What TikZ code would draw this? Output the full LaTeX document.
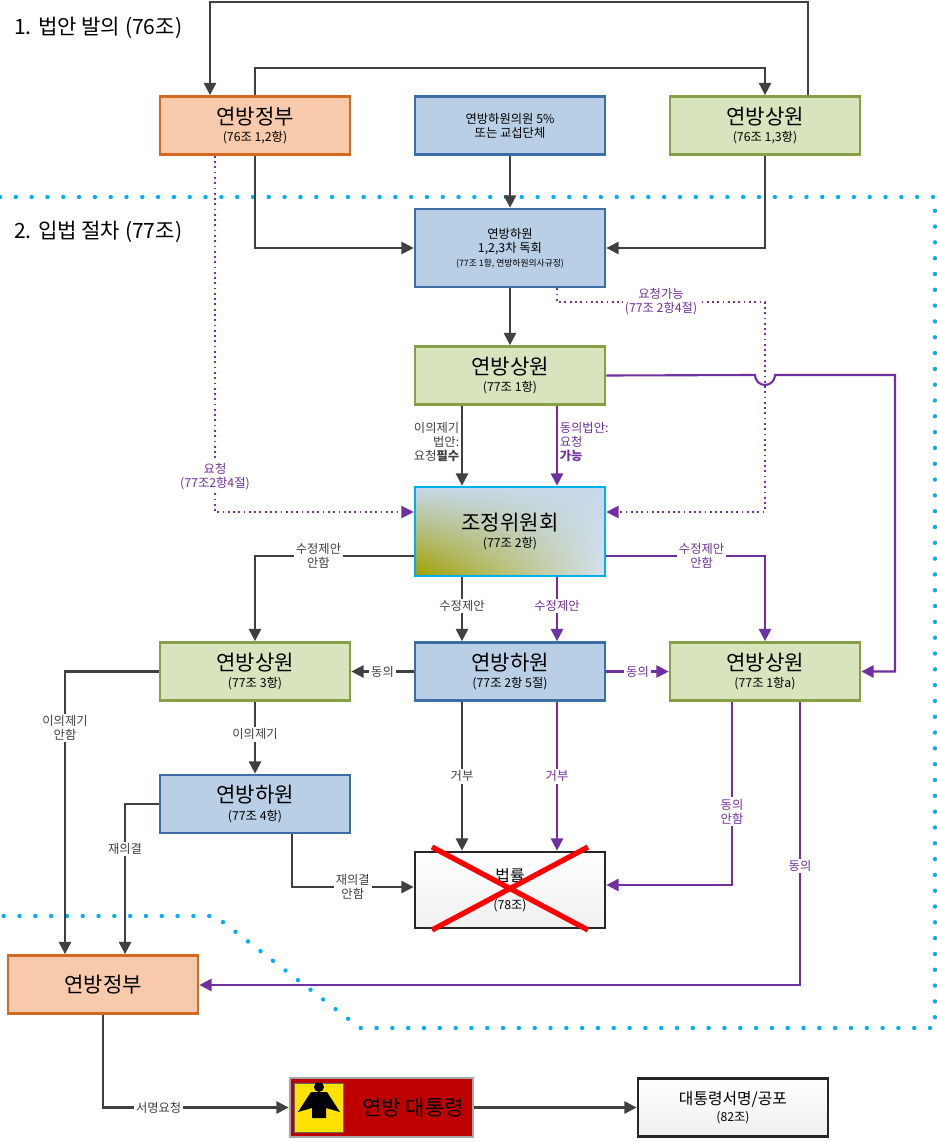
\documentclass[tikz,border=0pt]{standalone}
\usepackage{fontspec}
\setmainfont{Noto Sans CJK KR}
\usetikzlibrary{arrows.meta,shadings}
\definecolor{orgfill}{RGB}{246,202,170}
\definecolor{orgline}{RGB}{210,105,30}
\definecolor{bluefill}{RGB}{185,207,230}
\definecolor{blueline}{RGB}{60,110,165}
\definecolor{grnfill}{RGB}{215,228,190}
\definecolor{grnline}{RGB}{135,160,70}
\definecolor{purp}{RGB}{112,48,160}
\definecolor{cyanline}{RGB}{0,176,240}
\definecolor{darr}{RGB}{64,64,64}
\begin{document}
\begin{tikzpicture}[x=0.02cm,y=-0.02cm,
    box/.style={draw,line width=1.6pt,minimum width=3.8cm,minimum height=1.16cm,align=center,inner sep=1pt,font=\scriptsize},
    gov/.style={box,fill=orgfill,draw=orgline},
    lower/.style={box,fill=bluefill,draw=blueline},
    upper/.style={box,fill=grnfill,draw=grnline},
    blk/.style={darr,line width=1.2pt,-{Triangle[length=7pt,width=7pt]}},
    prp/.style={purp,line width=1.2pt,-{Triangle[length=7pt,width=7pt]}},
    prpdot/.style={purp,line width=1pt,dotted,-{Triangle[length=7pt,width=7pt]}},
    lbl/.style={fill=white,inner sep=1pt,align=center,font=\scriptsize},
    plbl/.style={lbl,text=purp}]
\useasboundingbox (0,0) rectangle (936,1142);
% region of the legislative procedure
\draw[cyanline,line width=2.5pt,line cap=round,dash pattern=on 0pt off 9pt]
  (0,197) -- (935,197) -- (935,1028) -- (360,1028) -- (215,916) -- (0,916);
\node[anchor=west,font=\large] (t1) at (8,28) {1. 법안 발의 (76조)};
\node[anchor=west,font=\large] (t2) at (8,232) {2. 입법 절차 (77조)};

% boxes
\node[gov] (gov1) at (255,125.5) {{\large 연방정부}\\[2pt](76조 1,2항)};
\node[lower] (bt5) at (510,125.5) {연방하원의원 5\%\\또는 교섭단체};
\node[upper] (br1) at (765,125.5) {{\large 연방상원}\\[2pt](76조 1,3항)};
\node[lower,minimum height=1.56cm] (bt1) at (510,248) {연방하원\\1,2,3차 독회\\{\tiny (77조 1항, 연방하원의사규정)}};
\node[upper] (br2) at (510,375.5) {{\large 연방상원}\\[2pt](77조 1항)};
\node[box,draw=cyanline,minimum height=1.78cm,upper left=bluefill!80,upper right=bluefill!80,lower left=olive!75,lower right=bluefill!60] (vm) at (510,531.5) {{\large 조정위원회}\\[2pt](77조 2항)};
\node[upper] (br3) at (255,671.5) {{\large 연방상원}\\[2pt](77조 3항)};
\node[lower] (bt2) at (510,671.5) {{\large 연방하원}\\[2pt](77조 2항 5절)};
\node[upper] (br4) at (765,671.5) {{\large 연방상원}\\[2pt](77조 1항a)};
\node[lower] (bt3) at (255,804) {{\large 연방하원}\\[2pt](77조 4항)};
\node[box,draw=black!85,top color=white,bottom color=black!6,minimum height=1.52cm] (law) at (510,890) {\small 법률\\[8pt](78조)};
\draw[red,line width=3pt] (432,847) -- (588,930) (432,930) -- (588,847);
\node[gov] (gov2) at (103,984.5) {\large 연방정부};
\node[box,fill=red!75!black,draw=black!35,minimum width=3.66cm,minimum height=1.18cm] (pres) at (381.5,1107.5) {};
\node[fill=yellow!85!orange,draw=black!60,minimum size=0.98cm] (eagle) at (319,1107.5) {};
\fill[black] (319,1087) circle (5) (311,1092) -- (327,1092) -- (340,1112) -- (326,1108) -- (326,1118) -- (312,1118) -- (312,1108) -- (298,1112) -- cycle;
\node[font=\large] (ptxt) at (413,1107.5) {연방 대통령};
\node[box,draw=black!85,top color=white,bottom color=black!6] (sign) at (733,1107.5) {\small 대통령서명/공포\\[2pt](82조)};

% initiative
\draw[blk] (br1.north -| 808,0) |- (210,2) -- (gov1.north -| 210,0);
\draw[blk] (gov1.north) |- (765,68) -- (br1.north -| 765,0);
\draw[blk] (gov1.south) |- (bt1.west);
\draw[blk] (bt5) -- (bt1);
\draw[blk] (br1.south) |- (bt1.east);
\draw[blk] (bt1) -- (br2);

% requests to the committee
\draw[prpdot] (gov1.south -| 215,0) |- (vm.west |- 0,512) node[plbl,pos=0.45] {요청\\(77조2항4절)};
\draw[prpdot] (bt1.south -| 557,0) |- (765,302) node[plbl,pos=0.75] {요청가능\\(77조 2항4절)} |- (vm.east |- 0,512);

\draw[blk] (br2.south -| 462,0) -- (vm.north -| 462,0) node[lbl,pos=0.45,anchor=east,align=right] {이의제기\\법안:\\요청\textbf{필수}};
\draw[prp] (br2.south -| 557,0) -- (vm.north -| 557,0) node[lbl,pos=0.45,anchor=west,align=left] {동의법안:\\요청\\\textbf{가능}};
\draw[prp] (br2.east) -- (755,375) arc[start angle=180,end angle=0,radius=10] -- (895,375) |- (br4.east);

% committee outcomes
\draw[blk] (vm.west |- 0,556) -| (br3.north) node[lbl,pos=0.3] {수정제안\\안함};
\draw[blk] (vm.south -| 462,0) -- (bt2.north -| 462,0) node[lbl,pos=0.45] {수정제안};
\draw[prp] (vm.south -| 557,0) -- (bt2.north -| 557,0) node[plbl,pos=0.45] {수정제안};
\draw[prp] (vm.east |- 0,556) -| (br4.north) node[plbl,pos=0.3] {수정제안\\안함};
\draw[blk] (bt2.west) -- (br3.east) node[lbl,pos=0.5] {동의};
\draw[prp] (bt2.east) -- (br4.west) node[plbl,pos=0.5] {동의};

\draw[blk] (br3) -- (bt3) node[lbl,pos=0.45] {이의제기};
\draw[blk] (br3.west) -| (gov2.north -| 65,0) node[lbl,pos=0.6] {이의제기\\안함};
\draw[blk] (bt3.west) -| (gov2.north -| 125,0) node[lbl,pos=0.65] {재의결};
\draw[blk] (bt3.south -| 292,0) |- (law.west |- 0,887) node[lbl,pos=0.75] {재의결\\안함};
\draw[blk] (bt2.south -| 462,0) -- (law.north -| 462,0) node[lbl,pos=0.5] {거부};
\draw[prp] (bt2.south -| 557,0) -- (law.north -| 557,0) node[plbl,pos=0.5] {거부};
\draw[prp] (br4.south -| 732,0) |- (law.east |- 0,885) node[plbl,pos=0.3] {동의\\안함};
\draw[prp] (br4.south -| 800,0) |- (gov2.east |- 0,985) node[plbl,pos=0.29] {동의};

% promulgation
\draw[blk] (gov2.south) |- (pres.west) node[lbl,pos=0.65] {서명요청};
\draw[blk] (pres.east) -- (sign.west);
\end{tikzpicture}
\end{document}
